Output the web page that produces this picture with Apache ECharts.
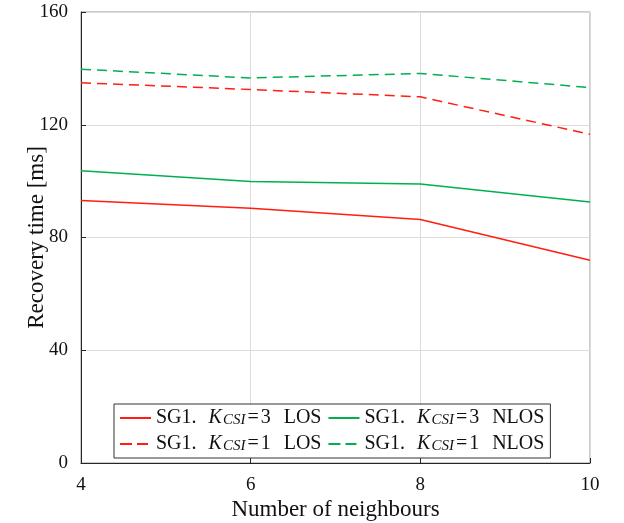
<!DOCTYPE html>
<html><head><meta charset="utf-8">
<script src="https://cdn.jsdelivr.net/npm/echarts@6/dist/echarts.min.js"></script>
<style>html,body{margin:0;padding:0;background:#fff}#c{width:624px;height:523px}</style>
</head><body><div id="c"></div>
<script>
const neighbours = [4, 6, 8, 10];
const losK3 = [93.1, 90.4, 86.4, 71.9];
const nlosK3 = [103.7, 99.9, 99.0, 92.6];
const losK1 = [134.9, 132.5, 129.9, 116.6];
const nlosK1 = [139.7, 136.6, 138.2, 133.2];
const seriesNames = ['k3los', 'k3nlos', 'k1los', 'k1nlos'];
const legendLabels = {
  k3los: '{t|SG1.}{k|K}{s|CSI}{e|=}{t|3}{l|LOS}',
  k3nlos: '{t|SG1.}{k|K}{s|CSI}{e|=}{t|3}{l|NLOS}',
  k1los: '{t|SG1.}{k|K}{s|CSI}{e|=}{t|1}{l|LOS}',
  k1nlos: '{t|SG1.}{k|K}{s|CSI}{e|=}{t|1}{l|NLOS}'
};
const yTicks = [0, 40, 80, 120, 160];
const FONT = 'Liberation Serif';
const RED = '#ff1e0f', GREEN = '#00b050';
const SOLID_ICON = 'path://M0,0 L31,0 L31,2 L0,2 Z';
const DASH_ICON = 'path://M0,0 L12,0 L12,2 L0,2 Z M17,0 L28,0 L28,2 L17,2 Z M31,0 L31,2 L31,2 Z';
function pts(v){ return neighbours.map((x,i)=>[x, v[i]]); }
const chart = echarts.init(document.getElementById('c'));
const axisCommon = {
  axisLine: {show: true, lineStyle: {color: '#262626', width: 1}},
  axisTick: {show: true, inside: true, length: 5, lineStyle: {color: '#262626'}},
  splitLine: {show: true, lineStyle: {color: '#dcdcdc', width: 1}},
  axisLabel: {color: '#111', fontFamily: FONT, fontSize: 19},
  nameMoveOverlap: false
};
const base = {fontFamily: FONT, fontSize: 20, color: '#111', lineHeight: 20};
chart.setOption({
  animation: false,
  backgroundColor: '#fff',
  grid: {left: 81, right: 34, top: 12, bottom: 60, show: true, borderColor: '#999', borderWidth: 1,
         outerBoundsMode: 'none', containLabel: false},
  xAxis: Object.assign({}, axisCommon, {
    type: 'value', min: 4, max: 10, interval: 2,
    name: 'Number of neighbours', nameLocation: 'middle', nameGap: 35,
    nameTextStyle: {fontFamily: FONT, fontSize: 23, color: '#111'},
    axisLabel: Object.assign({}, axisCommon.axisLabel, {margin: 13})
  }),
  yAxis: Object.assign({}, axisCommon, {
    type: 'value', min: yTicks[0], max: yTicks[yTicks.length-1], interval: 40,
    name: 'Recovery time [ms]', nameLocation: 'middle', nameGap: 33,
    nameTextStyle: {fontFamily: FONT, fontSize: 23, color: '#111'},
    axisLabel: Object.assign({}, axisCommon.axisLabel, {margin: 13})
  }),
  legend: {
    left: 114, top: 404, width: 450, itemGap: 5,
    itemWidth: 31, itemHeight: 2,
    padding: [3, 4, 4, 6],
    borderColor: '#333', borderWidth: 1, backgroundColor: '#fff',
    data: seriesNames.map((n,i)=>({name: n, icon: i < 2 ? SOLID_ICON : DASH_ICON})),
    formatter: n => legendLabels[n],
    textStyle: Object.assign({}, base, {
      rich: {
        t: Object.assign({}, base),
        k: Object.assign({}, base, {fontStyle: 'italic', padding: [0, 0, 0, 12]}),
        s: {fontFamily: FONT, fontStyle: 'italic', fontSize: 15, color: '#111', lineHeight: 20, verticalAlign: 'bottom', padding: [6, 1, 0, 1]},
        e: Object.assign({}, base, {padding: [0, 2, 0, 1]}),
        l: Object.assign({}, base, {padding: [0, 2, 0, 13]})
      }
    })
  },
  series: [
    {name: 'k3los', type: 'line', data: pts(losK3), symbol: 'none', lineStyle: {color: RED, width: 1.5}, itemStyle: {color: RED}},
    {name: 'k3nlos', type: 'line', data: pts(nlosK3), symbol: 'none', lineStyle: {color: GREEN, width: 1.5}, itemStyle: {color: GREEN}},
    {name: 'k1los', type: 'line', data: pts(losK1), symbol: 'none', lineStyle: {color: RED, width: 1.5, type: [10, 6]}, itemStyle: {color: RED}},
    {name: 'k1nlos', type: 'line', data: pts(nlosK1), symbol: 'none', lineStyle: {color: GREEN, width: 1.5, type: [10, 6]}, itemStyle: {color: GREEN}}
  ]
});
</script></body></html>
